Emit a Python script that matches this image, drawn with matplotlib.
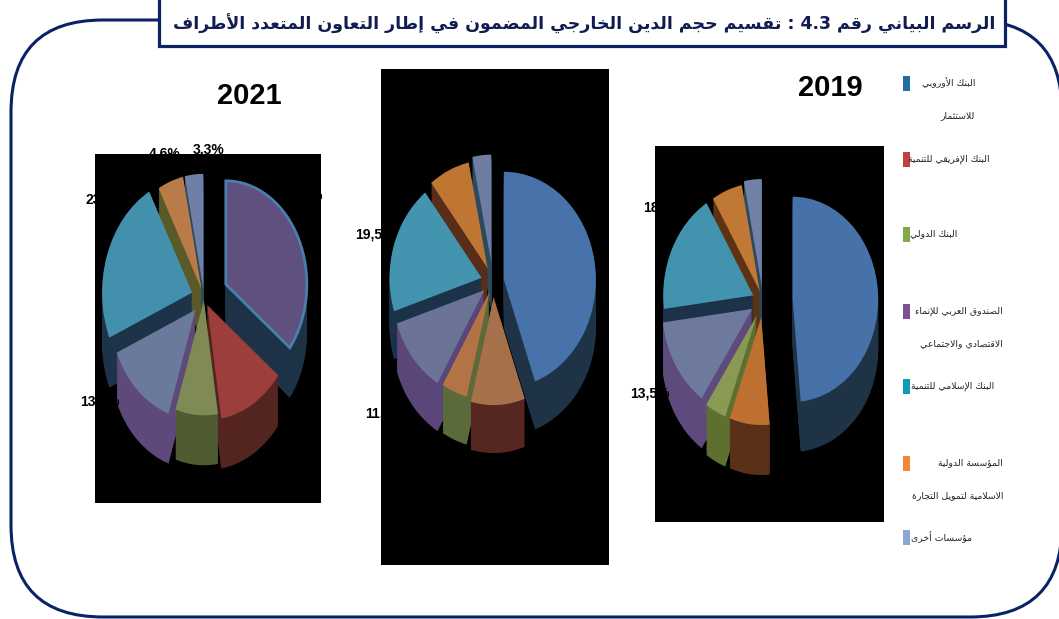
import matplotlib
matplotlib.use("Agg")
import matplotlib.pyplot as plt
from matplotlib.patches import FancyBboxPatch, Rectangle

title = "الرسم البياني رقم 4.3 : تقسيم حجم الدين الخارجي المضمون في إطار التعاون المتعدد الأطراف"

legend_labels = [
    "البنك الأوروبي\nللاستثمار",
    "البنك الإفريقي للتنمية",
    "البنك الدولي",
    "الصندوق العربي للإنماء\nالاقتصادي والاجتماعي",
    "البنك الإسلامي للتنمية",
    "المؤسسة الدولية\nالاسلامية لتمويل التجارة",
    "مؤسسات أخرى",
]
legend_colors = ["#1f6ea5", "#c0413f", "#7faa47", "#7a5196", "#0f9bb3", "#f58634", "#8aa8d0"]

values_2021 = [35.5, 12.0, 7.6, 13.5, 23.5, 4.6, 3.3]
values_2020 = [44.5, 9.5, 4.5, 11.5, 19.5, 7.2, 3.3]
values_2019 = [48.5, 7.2, 3.8, 13.5, 18.3, 5.5, 3.2]

tops_2021 = ["#5f5080", "#9c3f3c", "#7f8a55", "#6b7a9c", "#4290ac", "#b97b48", "#6f7fa5"]
tops_2020 = ["#4773aa", "#a5704a", "#b27447", "#6b7396", "#4394ae", "#bf7632", "#6f7da3"]
tops_2019 = ["#4672a9", "#bd7030", "#8a9a55", "#6d7a9e", "#4294ae", "#c27835", "#7080a6"]
sides_2021 = ["#1d3247", "#542520", "#4f5c32", "#5e4a7a", "#1d3349", "#5a5a28", "#2a4a60"]
sides_2020 = ["#1f3347", "#562620", "#5a6a38", "#5a4678", "#1c3248", "#5a2c1a", "#2a4a60"]
sides_2019 = ["#1f3347", "#5a3018", "#5d7030", "#5e4a7c", "#1c3248", "#5c3414", "#2a4a60"]

NAVY = "#0b2265"
W, H = 1059, 619

# arabic letter -> first code point of its presentation forms, and how many forms
FORMS = {
    "ء": (0xFE80, 1), "أ": (0xFE83, 2), "ؤ": (0xFE85, 2), "إ": (0xFE87, 2), "ا": (0xFE8D, 2),
    "ب": (0xFE8F, 4), "ة": (0xFE93, 2), "ت": (0xFE95, 4), "ث": (0xFE99, 4), "ج": (0xFE9D, 4),
    "ح": (0xFEA1, 4), "خ": (0xFEA5, 4), "د": (0xFEA9, 2), "ذ": (0xFEAB, 2), "ر": (0xFEAD, 2),
    "ز": (0xFEAF, 2), "س": (0xFEB1, 4), "ش": (0xFEB5, 4), "ص": (0xFEB9, 4), "ض": (0xFEBD, 4),
    "ط": (0xFEC1, 4), "ظ": (0xFEC5, 4), "ع": (0xFEC9, 4), "غ": (0xFECD, 4), "ف": (0xFED1, 4),
    "ق": (0xFED5, 4), "ك": (0xFED9, 4), "ل": (0xFEDD, 4), "م": (0xFEE1, 4), "ن": (0xFEE5, 4),
    "ه": (0xFEE9, 4), "و": (0xFEED, 2), "ى": (0xFEEF, 2), "ي": (0xFEF1, 4),
}
LAM_ALEF = {"ا": 0xFEFB, "أ": 0xFEF7, "إ": 0xFEF9}


# matplotlib has no arabic shaping, so pick the joined forms by hand
def shape_word(word):
    out = []
    i = 0
    joined = False
    while i < len(word):
        c = word[i]
        if c not in FORMS:
            out.append(c)
            joined = False
            i += 1
            continue
        if c == "ل" and i + 1 < len(word) and word[i + 1] in LAM_ALEF:
            out.append(chr(LAM_ALEF[word[i + 1]] + (1 if joined else 0)))
            joined = False
            i += 2
            continue
        start, n = FORMS[c]
        next_ok = n == 4 and i + 1 < len(word) and word[i + 1] in FORMS
        if n == 1:
            form = 0
        elif n == 2:
            form = 1 if joined else 0
        elif joined and next_ok:
            form = 3
        elif joined:
            form = 1
        elif next_ok:
            form = 2
        else:
            form = 0
        out.append(chr(start + form))
        joined = next_ok
        i += 1
    return "".join(reversed(out))


def shape(text):
    words = [w if w[0].isdigit() else shape_word(w) for w in text.split(" ")]
    return " ".join(reversed(words))


fig = plt.figure(figsize=(W / 100, H / 100), dpi=100, facecolor="white")
bg = fig.add_axes([0, 0, 1, 1])
bg.set_xlim(0, W)
bg.set_ylim(H, 0)
bg.axis("off")

# rounded frame and title box
bg.add_patch(FancyBboxPatch((11, 20), 1051, 597, boxstyle="round,pad=0,rounding_size=92",
                            fc="white", ec=NAVY, lw=2.2))
bg.add_patch(Rectangle((159, -4), 846, 50, fc="white", ec=NAVY, lw=2.3, zorder=3))
bg.text(995, 24, shape(title), ha="right", va="center", fontsize=12.5, fontweight="bold",
        color="#111d50", zorder=4, family="DejaVu Sans")

# legend
legend_y = [83, 159, 234, 311, 386, 463, 537]
legend_right = [975, 990, 957, 1003, 994, 1003, 972]
for label, color, y, right in zip(legend_labels, legend_colors, legend_y, legend_right):
    bg.add_patch(Rectangle((903, y - 7), 7, 15, fc=color, ec="none"))
    for k, line in enumerate(label.split("\n")):
        bg.text(right, y + k * 33, shape(line), ha="right", va="center", fontsize=6.7,
                color="#222222", family="DejaVu Sans")

charts = [
    {"year": "2021", "values": values_2021, "tops": tops_2021, "sides": sides_2021,
     "explode": [0.27, 0.07, 0.02, 0.14, 0.14, 0.08, 0.08],
     "scale": [0.9, 1, 1, 0.95, 1, 1, 1],
     "rect": (95, 154, 321, 503), "centre": (204, 298), "rx": 90, "ry": 115, "depth": 50,
     "year_pos": (249, 96),
     "label_pos": [(303, 195), (297, 460), (165, 495), (100, 401), (105, 200), (165, 153), (209, 150)]},
    {"year": "2020", "values": values_2020, "tops": tops_2020, "sides": sides_2020,
     "explode": [0.12, 0.14, 0.1, 0.12, 0.13, 0.14, 0.18],
     "scale": [1, 1, 1, 1, 1, 1, 1],
     "rect": (381, 69, 609, 565), "centre": (493, 282), "rx": 92, "ry": 108, "depth": 48,
     "year_pos": (490, 97),
     "label_pos": [(587, 175), (535, 480), (433, 472), (385, 413), (375, 234), (435, 143), (492, 137)]},
    {"year": "2019", "values": values_2019, "tops": tops_2019, "sides": sides_2019,
     "explode": [0.33, 0.15, 0.15, 0.14, 0.12, 0.1, 0.13],
     "scale": [0.95, 1, 1, 1, 1, 1, 1],
     "rect": (655, 146, 884, 522), "centre": (763, 301), "rx": 90, "ry": 108, "depth": 50,
     "year_pos": (830, 88),
     "label_pos": [(863, 205), (782, 495), (693, 458), (650, 393), (663, 207), (716, 165), (765, 158)]},
]

for c in charts:
    x0, y0, x1, y1 = c["rect"]
    cx, cy = c["centre"]
    ax = fig.add_axes([x0 / W, 1 - y1 / H, (x1 - x0) / W, (y1 - y0) / H])
    # stack of darker pies for the 3d side, then the top on it
    for layer in range(c["depth"], 0, -2):
        side, _ = ax.pie(c["values"], colors=c["sides"], explode=c["explode"], startangle=90,
                         counterclock=False, center=(0, -layer / c["ry"]), wedgeprops={"lw": 0})
        for w, s in zip(side, c["scale"]):
            w.set_radius(s)
    top, _ = ax.pie(c["values"], colors=c["tops"], explode=c["explode"], startangle=90,
                    counterclock=False, wedgeprops={"lw": 0})
    for w, s in zip(top, c["scale"]):
        w.set_radius(s)
    if c["year"] == "2021":
        top[0].set_edgecolor("#4a7eab")
        top[0].set_linewidth(2)
    ax.set_aspect("auto")
    ax.set_xlim((x0 - cx) / c["rx"], (x1 - cx) / c["rx"])
    ax.set_ylim((cy - y1) / c["ry"], (cy - y0) / c["ry"])
    ax.set_frame_on(True)
    ax.set_facecolor("black")
    for s in ax.spines.values():
        s.set_visible(False)

    # black labels: only what sticks out of the black box can be seen, same as the original
    for v, (lx, ly) in zip(c["values"], c["label_pos"]):
        fig.text(lx / W, 1 - ly / H, f"{v}%".replace(".", ","), ha="center", va="center",
                 color="black", fontsize=10, fontweight="bold", family="Liberation Sans", zorder=10)
    fig.text(c["year_pos"][0] / W, 1 - c["year_pos"][1] / H, c["year"], ha="center", va="center",
             color="black", fontsize=21, fontweight="bold", family="Liberation Sans", zorder=10)

fig.savefig("out.png", dpi=100)
